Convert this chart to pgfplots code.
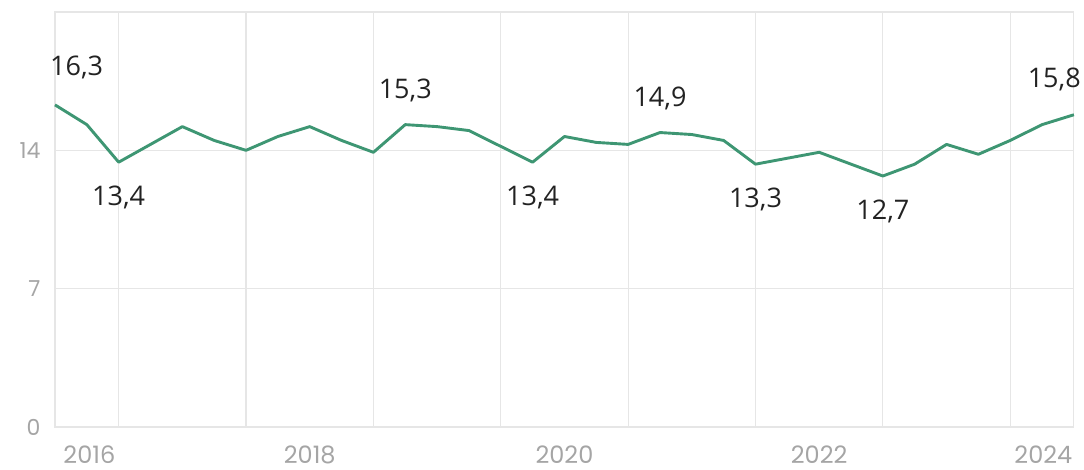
\documentclass[border=0pt]{standalone}
\usepackage{pgfplots}
\pgfplotsset{compat=1.18}
\usepackage{pgfplotstable}
\usepackage{fontspec}
\setmainfont{Open Sans}
\newfontfamily\tickfont{Poppins}
\definecolor{linegreen}{RGB}{62,150,115}
\definecolor{gridgray}{RGB}{230,230,230}
\definecolor{tickgray}{RGB}{165,165,165}
\definecolor{labtext}{RGB}{34,34,34}

\pgfplotstableread{
x y
2016.00 16.3
2016.25 15.3
2016.50 13.4
2016.75 14.3
2017.00 15.2
2017.25 14.5
2017.50 14.0
2017.75 14.7
2018.00 15.2
2018.25 14.5
2018.50 13.9
2018.75 15.3
2019.00 15.2
2019.25 15.0
2019.50 14.2
2019.75 13.4
2020.00 14.7
2020.25 14.4
2020.50 14.3
2020.75 14.9
2021.00 14.8
2021.25 14.5
2021.50 13.3
2021.75 13.6
2022.00 13.9
2022.25 13.3
2022.50 12.7
2022.75 13.3
2023.00 14.3
2023.25 13.8
2023.50 14.5
2023.75 15.3
2024.00 15.8
}\datatable

\pgfplotstableread{
x y lab
2018.75 15.3 15,3
2020.75 14.9 14,9
}\labup
\pgfplotstableread{
x y lab
2016.50 13.4 13,4
2019.75 13.4 13,4
2021.50 13.3 13,3
2022.50 12.7 12,7
}\labdown
\pgfplotstableread{
x y lab
2016.00 16.3 16,3
}\labfirst
\pgfplotstableread{
x y lab
2024.00 15.8 15,8
}\lablast

\begin{document}
\begin{tikzpicture}
\useasboundingbox (0,0) rectangle (1084bp,470bp);
\begin{axis}[
  at={(55bp,43bp)}, anchor=south west,
  scale only axis,
  width=1019bp, height=415bp,
  xmin=2016, xmax=2024,
  ymin=0, ymax=21,
  axis line style={gridgray, line width=1.1bp},
  xtick={2016.27,2018,2020,2022,2023.76},
  xticklabels={2016,2018,2020,2022,2024},
  minor xtick={2016.5,2017.5,2018.5,2019.5,2020.5,2021.5,2022.5,2023.5},
  xminorgrids=true,
  ytick={0,7,14},
  ymajorgrids=true,
  grid style={gridgray, line width=1.1bp},
  minor grid style={gridgray, line width=1.1bp},
  major tick length=0pt, minor tick length=0pt,
  /pgf/number format/assume math mode=true,
  /pgf/number format/1000 sep={},
  yticklabel style={tickgray, font=\tickfont\fontsize{22bp}{22bp}\selectfont, xshift=-11bp},
  xticklabel style={tickgray, font=\tickfont\fontsize{24bp}{24bp}\selectfont, yshift=-15bp},
  clip=false,
]
\addplot[linegreen, line width=2.9bp, line join=round, mark=none] table[x=x,y=y] {\datatable};
\addplot[draw=none, mark=none, nodes near coords, point meta=explicit symbolic,
  nodes near coords style={anchor=south, inner sep=0pt, yshift=22bp, text=labtext, font=\fontsize{27bp}{27bp}\selectfont}]
  table[x=x,y=y,meta=lab] {\labup};
\addplot[draw=none, mark=none, nodes near coords, point meta=explicit symbolic,
  nodes near coords style={anchor=north, inner sep=0pt, yshift=-24bp, text=labtext, font=\fontsize{27bp}{27bp}\selectfont}]
  table[x=x,y=y,meta=lab] {\labdown};
\addplot[draw=none, mark=none, nodes near coords, point meta=explicit symbolic,
  nodes near coords style={anchor=south west, inner sep=0pt, xshift=-5bp, yshift=26bp, text=labtext, font=\fontsize{27bp}{27bp}\selectfont}]
  table[x=x,y=y,meta=lab] {\labfirst};
\addplot[draw=none, mark=none, nodes near coords, point meta=explicit symbolic,
  nodes near coords style={anchor=south east, inner sep=0pt, xshift=7bp, yshift=24bp, text=labtext, font=\fontsize{27bp}{27bp}\selectfont}]
  table[x=x,y=y,meta=lab] {\lablast};
\end{axis}
\end{tikzpicture}
\end{document}
